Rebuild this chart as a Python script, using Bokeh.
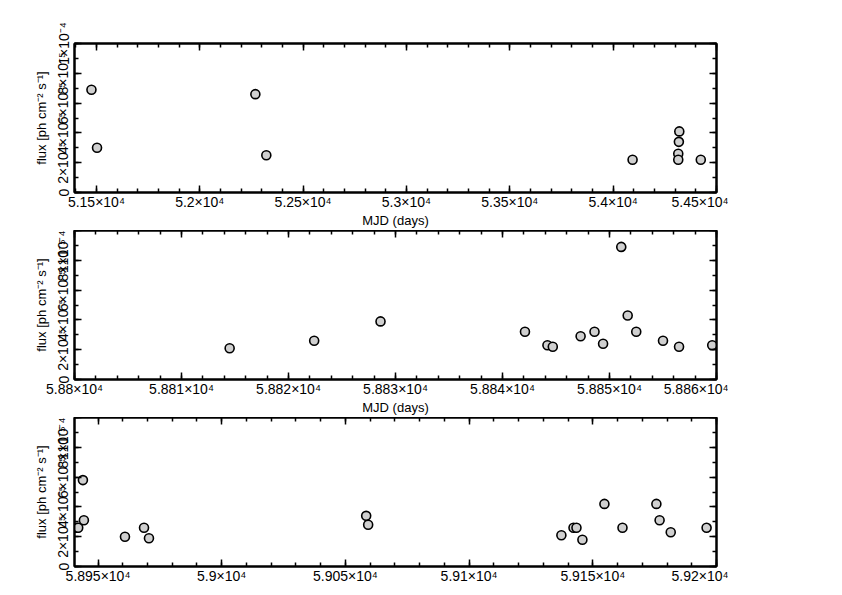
from bokeh.plotting import figure
from bokeh.layouts import column
from bokeh.models import LinearAxis, FixedTicker, Range1d, CustomJSTickFormatter
from bokeh.embed import file_html
from bokeh.resources import INLINE

# ---------------- data ----------------
mjd_1 = [51476, 51503, 52269, 52322, 54094, 54320, 54318, 54315, 54315, 54424]
flux_1 = [6.9e-5, 3.0e-5, 6.6e-5, 2.5e-5, 2.2e-5, 4.1e-5, 3.4e-5, 2.6e-5, 2.2e-5, 2.2e-5]

mjd_2 = [58814.5, 58822.4, 58828.6, 58842.1, 58844.2, 58844.7, 58847.3, 58848.6,
         58849.4, 58851.1, 58851.7, 58852.5, 58855.0, 58856.5, 58859.6]
flux_2 = [2.1e-5, 2.6e-5, 3.9e-5, 3.2e-5, 2.3e-5, 2.2e-5, 2.9e-5, 3.2e-5,
          2.4e-5, 8.9e-5, 4.3e-5, 3.2e-5, 2.6e-5, 2.2e-5, 2.3e-5]

mjd_3 = [58941.5, 58942.0, 58944.3, 58943.9, 58960.9, 58968.6, 58970.6, 59058.4, 59059.2,
         59137.3, 59142.2, 59143.4, 59145.8, 59154.7, 59162.0, 59175.7, 59177.0, 59181.5, 59196.0]
flux_3 = [2.6e-5, 2.6e-5, 3.1e-5, 5.8e-5, 2.0e-5, 2.6e-5, 1.9e-5, 3.4e-5, 2.8e-5,
          2.1e-5, 2.6e-5, 2.6e-5, 1.8e-5, 4.2e-5, 2.6e-5, 4.2e-5, 3.1e-5, 2.3e-5, 2.6e-5]

xticks_1 = [51500, 52000, 52500, 53000, 53500, 54000, 54500]
xlabels_1 = ["5.15×10⁴", "5.2×10⁴", "5.25×10⁴", "5.3×10⁴", "5.35×10⁴", "5.4×10⁴", "5.45×10⁴"]
xticks_2 = [58800, 58810, 58820, 58830, 58840, 58850, 58860]
xlabels_2 = ["5.88×10⁴", "5.881×10⁴", "5.882×10⁴", "5.883×10⁴", "5.884×10⁴", "5.885×10⁴", "5.886×10⁴"]
xticks_3 = [58950, 59000, 59050, 59100, 59150, 59200]
xlabels_3 = ["5.895×10⁴", "5.9×10⁴", "5.905×10⁴", "5.91×10⁴", "5.915×10⁴", "5.92×10⁴"]

yticks = [0, 2e-5, 4e-5, 6e-5, 8e-5, 1e-4]
ylabels = ["0", "2×10⁻⁵", "4×10⁻⁵", "6×10⁻⁵", "8×10⁻⁵", "1×10⁻⁴"]
yminor = [i * 1e-5 for i in range(0, 11)]

x_label = "MJD (days)"
y_label = "flux [ph cm⁻² s⁻¹]"

FONT = "Liberation Sans"


def fmt(ticks, labels):
    return CustomJSTickFormatter(
        args=dict(tv=ticks, tl=labels),
        code="""
        for (let i = 0; i < tv.length; i++) {
            const t = tv[i];
            if (Math.abs(t - tick) <= 1e-6 * Math.max(Math.abs(t), 1e-5)) { return tl[i]; }
        }
        return '';
        """)


def style_axis(ax):
    ax.axis_line_width = 2
    ax.axis_line_color = "black"
    ax.major_tick_in = 7
    ax.major_tick_out = 0
    ax.minor_tick_in = 4
    ax.minor_tick_out = 0
    ax.major_tick_line_width = 1.5
    ax.minor_tick_line_width = 1.5
    ax.major_tick_line_color = "black"
    ax.minor_tick_line_color = "black"
    ax.major_label_text_font = FONT
    ax.major_label_text_font_size = "14px"
    ax.major_label_text_color = "black"
    ax.axis_label_text_font = FONT
    ax.axis_label_text_font_size = "13px"
    ax.axis_label_text_font_style = "normal"
    ax.axis_label_text_color = "black"


def panel(xr, xs, ys, xticks, xlabels, xminor, with_xlabel, top_b, bottom_b):
    p = figure(frame_width=642, frame_height=149,
               x_range=Range1d(*xr), y_range=Range1d(0, 1e-4),
               output_backend="svg", toolbar_location=None,
               min_border_left=74, min_border_right=12,
               min_border_top=top_b, min_border_bottom=bottom_b,
               background_fill_color="white", border_fill_color="white")
    p.grid.visible = False
    p.outline_line_color = "black"
    p.outline_line_width = 2

    xt = FixedTicker(ticks=xticks, minor_ticks=xminor)
    yt = FixedTicker(ticks=yticks, minor_ticks=yminor)

    xa = p.xaxis[0]
    xa.ticker = xt
    xa.formatter = fmt(xticks, xlabels)
    style_axis(xa)
    xa.major_label_standoff = 1
    if with_xlabel:
        xa.axis_label = x_label
        xa.axis_label_standoff = 0

    ya = p.yaxis[0]
    ya.ticker = yt
    ya.formatter = fmt(yticks, ylabels)
    style_axis(ya)
    ya.major_label_orientation = "vertical"
    ya.major_label_standoff = 3
    ya.axis_label = y_label
    ya.axis_label_standoff = 4

    top = LinearAxis(ticker=xt, formatter=CustomJSTickFormatter(code="return '';"))
    style_axis(top)
    top.major_label_standoff = 0
    p.add_layout(top, "above")
    right = LinearAxis(ticker=yt, formatter=CustomJSTickFormatter(code="return '';"))
    style_axis(right)
    right.major_label_standoff = 0
    p.add_layout(right, "right")

    p.scatter(xs, ys, marker="circle", size=9, fill_color="#d0d0d0",
              line_color="black", line_width=1.6)
    return p


minor_1 = list(range(51400, 54501, 100))
minor_2 = list(range(58800, 58861, 2))
minor_3 = list(range(58950, 59201, 10))

p1 = panel((51394, 54500), mjd_1, flux_1, xticks_1, xlabels_1, minor_1, True, 43, 30)
p2 = panel((58800, 58860), mjd_2, flux_2, xticks_2, xlabels_2, minor_2, True, 0, 30)
p3 = panel((58940.5, 59200), mjd_3, flux_3, xticks_3, xlabels_3, minor_3, False, 0, 15)

layout = column(p1, p2, p3, spacing=0)

open("out.html", "w").write(file_html(layout, INLINE))
